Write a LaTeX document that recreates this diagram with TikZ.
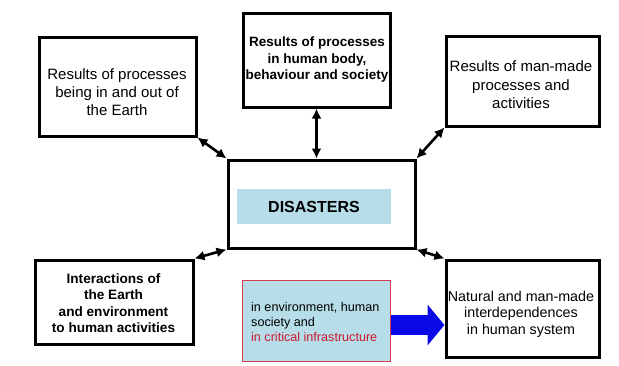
\documentclass[tikz,border=0pt]{standalone}
\usepackage{fontspec}
\setmainfont{Liberation Sans}
\usetikzlibrary{arrows.meta,calc}
\definecolor{panel}{RGB}{183,221,232}
\definecolor{redline}{RGB}{215,60,80}
\definecolor{redtext}{RGB}{205,25,45}
\definecolor{arrowblue}{RGB}{10,10,230}
\begin{document}
\begin{tikzpicture}[x=1pt,y=-1pt,
  box/.style={draw, line width=3pt, fill=white, inner sep=0pt},
  lbl/.style={align=center, inner sep=0pt},
  link/.style={line width=2.6pt, {Latex[length=10pt,width=10pt]}-{Latex[length=10pt,width=10pt]}},
  fatarrow/.style={line width=20pt, draw=arrowblue, -{Triangle[length=17pt,width=40pt]}}]
\useasboundingbox (0,0) rectangle (619,365);

% boxes
\node[box, minimum width=157pt, minimum height=99pt] (tl) at (117.5,86.5) {};
\node[box, minimum width=147pt, minimum height=94pt] (tc) at (316.5,60) {};
\node[box, minimum width=153pt, minimum height=90pt] (tr) at (522.5,81) {};
\node[box, minimum width=187pt, minimum height=88pt] (ctr) at (321.5,204) {};
\node[box, minimum width=158pt, minimum height=84pt] (bl) at (114,302) {};
\node[box, minimum width=153pt, minimum height=97pt] (br) at (522.5,308.5) {};
\node[draw=redline, line width=1pt, fill=panel, minimum width=148pt, minimum height=81pt] (red) at (316.5,321) {};

% texts
\node[lbl, font=\fontsize{15}{18}\selectfont] (tlt) at (117,92) {Results of processes\\being in and out of\\the Earth};
\node[lbl, font=\bfseries\fontsize{13.5}{16.5}\selectfont] (tct) at (317,60) {Results of processes\\in human body,\\behaviour and society};
\node[lbl, font=\fontsize{15}{18.5}\selectfont] (trt) at (521,85) {Results of man-made\\processes and\\activities};
\node[fill=panel, minimum width=154pt, minimum height=35pt, inner sep=0pt, font=\bfseries\fontsize{16}{19}\selectfont] (dis) at (314,206.5) {DISASTERS};
\node[lbl, font=\bfseries\fontsize{13.6}{16.5}\selectfont] (blt) at (113.5,303) {Interactions of\\the Earth\\and environment\\to human activities};
\node[lbl, font=\fontsize{14.3}{16.5}\selectfont] (brt) at (521,314) {Natural and man-made\\interdependences\\in human system};
\node[anchor=west, align=left, inner sep=0pt, font=\fontsize{12.6}{15}\selectfont] (redt) at (251,322) {in environment, human\\society and\\\textcolor{redtext}{in critical infrastructure}};

% connectors
\draw[link] (tl.south east) -- (ctr.north west);
\draw[link] (tc.south) -- (tc.south |- ctr.north);
\draw[link] (tr.south west) -- (ctr.north east);
\draw[link] (bl.north east) -- (ctr.south west);
\draw[link] (ctr.south east) -- (br.north west);
\draw[fatarrow] ([yshift=-4pt]red.east) -- ([yshift=-4pt]red.east -| br.west);
\end{tikzpicture}
\end{document}
